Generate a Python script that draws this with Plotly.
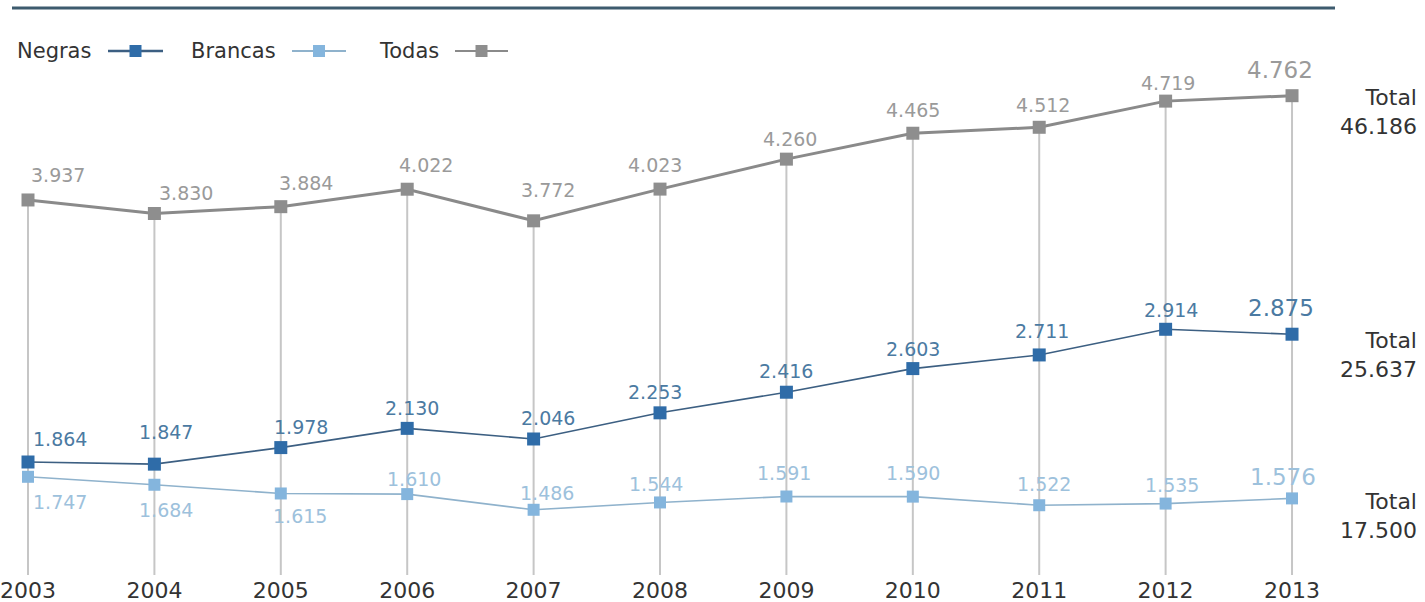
import plotly.graph_objects as go

# ---- data ----
years = [2003, 2004, 2005, 2006, 2007, 2008, 2009, 2010, 2011, 2012, 2013]
negras = [1864, 1847, 1978, 2130, 2046, 2253, 2416, 2603, 2711, 2914, 2875]
brancas = [1747, 1684, 1615, 1610, 1486, 1544, 1591, 1590, 1522, 1535, 1576]
todas = [3937, 3830, 3884, 4022, 3772, 4023, 4260, 4465, 4512, 4719, 4762]
series_names = ["Negras", "Brancas", "Todas"]
total_label = "Total"

# ---- styles ----
FONT = "DejaVu Sans"
C_NEG, C_NEG_LINE, C_NEG_TXT = "#2f6ca8", "#3c5f82", "#4b7aa2"
C_BRA, C_BRA_LINE, C_BRA_TXT = "#84b5dd", "#8fb2cc", "#9dc1dc"
C_TOD, C_TOD_LINE, C_TOD_TXT = "#8e8e8e", "#8a8a8a", "#9a9a9a"
C_DROP = "#c6c6c6"
Y_RANGE = [970, 5519]
X_RANGE = [2002.7785, 2014.052]
PLOT_H = 575

# per-point label offsets (pixels)
tod_dx = [30, 32, 25, 19, 14, -5, 4, 0, 4, 2, -12]
tod_dy = [25, 20, 24, 24, 31, 24, 20, 23, 22, 18, 26]
neg_dx = [32, 12, 20, 5, 14, -5, 0, 0, 3, 5, -11]
neg_dy = [23, 32, 21, 20, 21, 21, 21, 20, 24, 19, 26]
bra_dx = [32, 12, 19, 7, 13, -4, -2, 0, 5, 6, -9]
bra_dy = [-25, -25, -23, 15, 17, 18, 24, 24, 21, 19, 21]


def fmt(v):
    return f"{v:,}".replace(",", ".")


fig = go.Figure()

# drop lines from the "Todas" points to the bottom
dx, dy = [], []
for yr, v in zip(years, todas):
    dx += [yr, yr, None]
    dy += [Y_RANGE[0], v, None]
fig.add_trace(go.Scatter(x=dx, y=dy, mode="lines",
                         line=dict(color=C_DROP, width=2),
                         hoverinfo="skip", showlegend=False))

fig.add_trace(go.Scatter(x=years, y=brancas, mode="lines+markers", name=series_names[1],
                         line=dict(color=C_BRA_LINE, width=1.6),
                         marker=dict(symbol="square", size=12, color=C_BRA),
                         showlegend=False))
fig.add_trace(go.Scatter(x=years, y=negras, mode="lines+markers", name=series_names[0],
                         line=dict(color=C_NEG_LINE, width=1.6),
                         marker=dict(symbol="square", size=13, color=C_NEG),
                         showlegend=False))
fig.add_trace(go.Scatter(x=years, y=todas, mode="lines+markers", name=series_names[2],
                         line=dict(color=C_TOD_LINE, width=3),
                         marker=dict(symbol="square", size=13, color=C_TOD),
                         showlegend=False))

annotations = []


def add_labels(vals, dxs, dys, color):
    n = len(vals)
    for i, (yr, v) in enumerate(zip(years, vals)):
        last = i == n - 1
        annotations.append(dict(
            x=yr, y=v, xref="x", yref="y", text=fmt(v), showarrow=False,
            xshift=dxs[i], yshift=dys[i], xanchor="center", yanchor="middle",
            font=dict(family=FONT, size=23 if last else 19, color=color)))


add_labels(todas, tod_dx, tod_dy, C_TOD_TXT)
add_labels(negras, neg_dx, neg_dy, C_NEG_TXT)
add_labels(brancas, bra_dx, bra_dy, C_BRA_TXT)

# totals on the right
for vals, shift in ((todas, -16), (negras, -21), (brancas, -18)):
    annotations.append(dict(
        x=1419 / 1425, xref="paper", y=vals[-1], yref="y",
        text=f"{total_label}<br>{fmt(sum(vals))}", showarrow=False,
        xanchor="right", yanchor="middle", align="right", yshift=shift,
        font=dict(family=FONT, size=22, color="#333333")))

# custom legend: text followed by line+square symbol
shapes = []
leg_y = 1 - 51 / PLOT_H
legend_items = [
    (series_names[0], 15, 108, 163, C_NEG, C_NEG_LINE, 2.5),
    (series_names[1], 189, 292, 346, C_BRA, C_BRA_LINE, 2),
    (series_names[2], 377, 455, 508, C_TOD, C_TOD_LINE, 2),
]
for name, tx, lx0, lx1, mc, lc, lw in legend_items:
    annotations.append(dict(x=tx / 1425, y=leg_y, xref="paper", yref="paper",
                            text=name, showarrow=False, xanchor="left", yanchor="middle",
                            font=dict(family=FONT, size=21, color="#333333")))
    shapes.append(dict(type="line", xref="paper", yref="paper",
                       x0=lx0 / 1425, x1=lx1 / 1425, y0=leg_y, y1=leg_y,
                       line=dict(color=lc, width=lw)))
    cx = (lx0 + lx1) / 2 / 1425
    shapes.append(dict(type="rect", xref="paper", yref="paper",
                       xsizemode="pixel", ysizemode="pixel",
                       xanchor=cx, yanchor=leg_y,
                       x0=-6, x1=6, y0=-6, y1=6,
                       fillcolor=mc, line=dict(width=0)))

# top rule
shapes.append(dict(type="line", xref="paper", yref="paper",
                   x0=12 / 1425, x1=1335 / 1425,
                   y0=1 - 8 / PLOT_H, y1=1 - 8 / PLOT_H,
                   line=dict(color="#3d5b6e", width=3)))

fig.update_layout(
    width=1425, height=602,
    margin=dict(l=0, r=0, t=0, b=27, pad=0),
    paper_bgcolor="white", plot_bgcolor="white",
    annotations=annotations, shapes=shapes,
    showlegend=False,
    xaxis=dict(range=X_RANGE, tickvals=years, ticktext=[str(y) for y in years],
               showgrid=False, zeroline=False, showline=False, ticks="",
               tickfont=dict(family=FONT, size=22, color="#333333"), fixedrange=True),
    yaxis=dict(range=Y_RANGE, visible=False, fixedrange=True),
)

fig.write_html("out.html")
